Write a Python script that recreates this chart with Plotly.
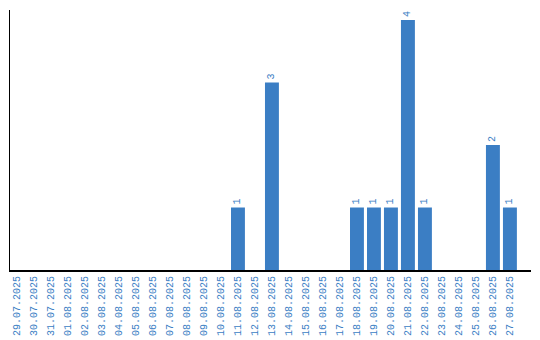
import plotly.graph_objects as go

dates = ["29.07.2025", "30.07.2025", "31.07.2025", "01.08.2025", "02.08.2025", "03.08.2025",
         "04.08.2025", "05.08.2025", "06.08.2025", "07.08.2025", "08.08.2025", "09.08.2025",
         "10.08.2025", "11.08.2025", "12.08.2025", "13.08.2025", "14.08.2025", "15.08.2025",
         "16.08.2025", "17.08.2025", "18.08.2025", "19.08.2025", "20.08.2025", "21.08.2025",
         "22.08.2025", "23.08.2025", "24.08.2025", "25.08.2025", "26.08.2025", "27.08.2025"]
counts = [0, 0, 0, 0, 0, 0, 0, 0, 0, 0, 0, 0, 0, 1, 0, 3, 0, 0, 0, 0, 1, 1, 1, 4, 1, 0, 0, 0, 2, 1]

blue = "#3b7ec4"
labels = [str(c) if c > 0 else "" for c in counts]

fig = go.Figure(go.Bar(
    x=dates, y=counts, marker_color=blue, marker_line_width=0,
    text=labels, textposition="outside", textangle=-90,
    textfont=dict(color=blue, size=10, family="Liberation Mono"),
    cliponaxis=False,
))
fig.update_layout(
    width=540, height=340, margin=dict(l=10, r=9, t=10, b=70),
    plot_bgcolor="white", paper_bgcolor="white", bargap=0.18, showlegend=False,
    font=dict(family="Liberation Mono", size=10, color=blue),
)
fig.update_xaxes(type="category", range=[-0.41, 30.24], showline=True, linecolor="black", linewidth=2,
                 tickangle=-90, showgrid=False, ticks="", automargin=False,
                 tickfont=dict(size=10, color=blue, family="Liberation Mono"))
fig.update_yaxes(range=[0, 4.16], showline=True, linecolor="black", linewidth=1,
                 showgrid=False, showticklabels=False, ticks="", zeroline=False, automargin=False)
fig.write_html("out.html")
